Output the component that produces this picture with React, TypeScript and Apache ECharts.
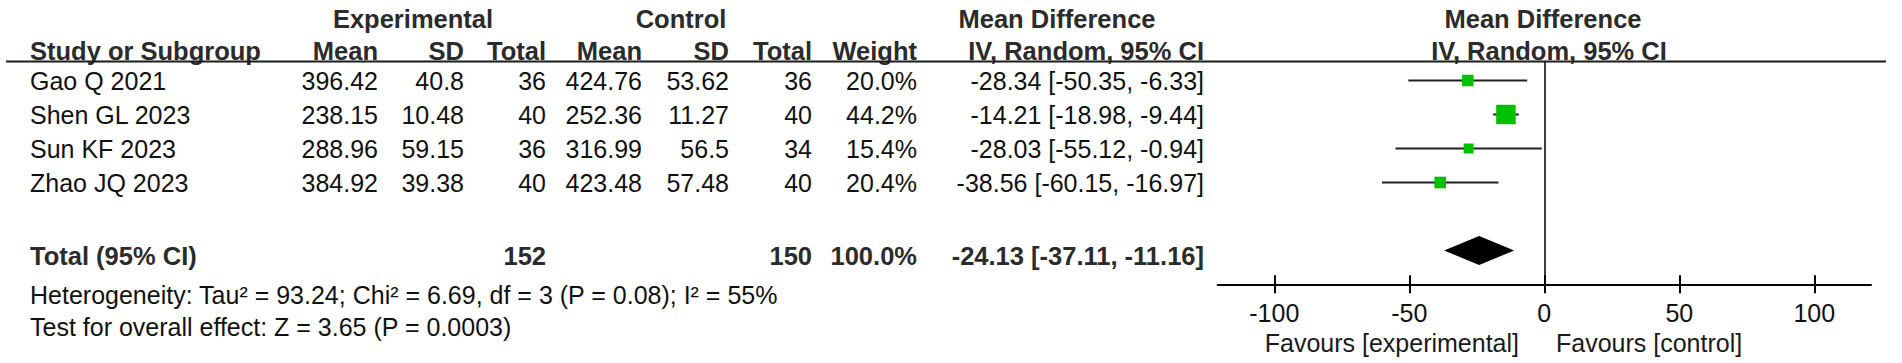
import React, { useEffect, useRef } from "react";
import * as echarts from "echarts";

// ---- data ----
const studies = ["Gao Q 2021", "Shen GL 2023", "Sun KF 2023", "Zhao JQ 2023"];
const expMean = [396.42, 238.15, 288.96, 384.92];
const expSD = [40.8, 10.48, 59.15, 39.38];
const expN = [36, 40, 36, 40];
const ctlMean = [424.76, 252.36, 316.99, 423.48];
const ctlSD = [53.62, 11.27, 56.5, 57.48];
const ctlN = [36, 40, 34, 40];
const weights = [20.0, 44.2, 15.4, 20.4];
const mdVals = [-28.34, -14.21, -28.03, -38.56];
const ciLow = [-50.35, -18.98, -55.12, -60.15];
const ciHigh = [-6.33, -9.44, -0.94, -16.97];
const totalN = [152, 150];
const totalWeight = [100.0];
const totalMD = [-24.13, -37.11, -11.16]; // estimate, low, high
const hetStats = [93.24, 6.69, 3, 0.08, 55]; // tau2, chi2, df, p, I2
const overallStats = [3.65, 0.0003]; // Z, P
const tickValues = [-100, -50, 0, 50, 100];

const FONT = "'Liberation Sans', Arial, Helvetica, sans-serif";
const FS = 25;
const FSB = 25.5;
const REG = `${FS}px ${FONT}`;
const BOLD = `bold ${FSB}px ${FONT}`;
const TXT = "#111";
const HDR = "#2b2b2b";

const rowY = (i: number) => 80.5 + 34 * i;
const TOTAL_ROW = 5;

function txt(text: string, x: number, y: number, align: string, bold = false, color?: string) {
  return {
    type: "text",
    x,
    y,
    silent: true,
    style: {
      text,
      font: bold ? BOLD : REG,
      fill: color || (bold ? HDR : TXT),
      textAlign: align,
      textVerticalAlign: "middle",
    },
  };
}

export default function App() {
  const ref = useRef<HTMLDivElement>(null);
  useEffect(() => {
    if (!ref.current) return;
    const chart = echarts.init(ref.current, undefined, { renderer: "svg" });

    // column right edges
    const cExpMean = 378, cExpSD = 464, cExpN = 546, cCtlMean = 642, cCtlSD = 729, cCtlN = 812, cW = 917, cMD = 1204;

    const g: any[] = [];
    // headers
    g.push(txt("Experimental", 413, 18.5, "center", true));
    g.push(txt("Control", 681, 18.5, "center", true));
    g.push(txt("Mean Difference", 1057, 18.5, "center", true));
    g.push(txt("Mean Difference", 1543, 18.5, "center", true));
    g.push(txt("Study or Subgroup", 30, 51, "left", true));
    g.push(txt("Mean", cExpMean, 51, "right", true));
    g.push(txt("SD", cExpSD, 51, "right", true));
    g.push(txt("Total", cExpN, 51, "right", true));
    g.push(txt("Mean", cCtlMean, 51, "right", true));
    g.push(txt("SD", cCtlSD, 51, "right", true));
    g.push(txt("Total", cCtlN, 51, "right", true));
    g.push(txt("Weight", cW, 51, "right", true));
    g.push(txt("IV, Random, 95% CI", cMD, 51, "right", true));
    g.push(txt("IV, Random, 95% CI", 1549, 51, "center", true));
    // header underline
    g.push({
      type: "line",
      silent: true,
      shape: { x1: 6, y1: 61.5, x2: 1886, y2: 61.5 },
      style: { stroke: "#1a1a1a", lineWidth: 2 },
    });
    // study rows
    studies.forEach((s, i) => {
      const y = rowY(i);
      g.push(txt(s, 30, y, "left"));
      g.push(txt(String(expMean[i]), cExpMean, y, "right"));
      g.push(txt(String(expSD[i]), cExpSD, y, "right"));
      g.push(txt(String(expN[i]), cExpN, y, "right"));
      g.push(txt(String(ctlMean[i]), cCtlMean, y, "right"));
      g.push(txt(String(ctlSD[i]), cCtlSD, y, "right"));
      g.push(txt(String(ctlN[i]), cCtlN, y, "right"));
      g.push(txt(weights[i].toFixed(1) + "%", cW, y, "right"));
      g.push(
        txt(`${mdVals[i].toFixed(2)} [${ciLow[i].toFixed(2)}, ${ciHigh[i].toFixed(2)}]`, cMD, y, "right")
      );
    });
    // total row
    const ty = rowY(TOTAL_ROW) + 5.5;
    g.push(txt("Total (95% CI)", 30, ty, "left", true));
    g.push(txt(String(totalN[0]), cExpN, ty, "right", true));
    g.push(txt(String(totalN[1]), cCtlN, ty, "right", true));
    g.push(txt(totalWeight[0].toFixed(1) + "%", cW, ty, "right", true));
    g.push(
      txt(
        `${totalMD[0].toFixed(2)} [${totalMD[1].toFixed(2)}, ${totalMD[2].toFixed(2)}]`,
        cMD,
        ty,
        "right",
        true
      )
    );
    g.push(
      txt(
        `Heterogeneity: Tau² = ${hetStats[0].toFixed(2)}; Chi² = ${hetStats[1].toFixed(2)}, df = ${hetStats[2]} (P = ${hetStats[3].toFixed(2)}); I² = ${hetStats[4]}%`,
        30,
        295,
        "left"
      )
    );
    g.push(
      txt(
        `Test for overall effect: Z = ${overallStats[0].toFixed(2)} (P = ${overallStats[1].toFixed(4)})`,
        30,
        327,
        "left"
      )
    );
    // favours labels
    g.push(txt("Favours [experimental]", 1519, 343, "right", false, "#1a1a1a"));
    g.push(txt("Favours [control]", 1556, 343, "left", false, "#1a1a1a"));

    const ciData = studies.map((_, i) => [mdVals[i], i, ciLow[i], ciHigh[i], weights[i]]);
    const diamondData = [[totalMD[0], TOTAL_ROW, totalMD[1], totalMD[2]]];

    const gridTop = 62;
    const gridBottomY = 284.3;
    const gridH = gridBottomY - gridTop;
    const yMin = -(rowY(0) - gridTop) / 34;
    const yMax = yMin + gridH / 34;
    const gridBox = { left: 1217.6, right: 1902 - 1871, top: gridTop, height: gridH, containLabel: false };

    const axisCommon = {
      type: "value",
      min: -121,
      max: 121,
      position: "bottom",
      splitLine: { show: false },
    };

    chart.setOption({
      animation: false,
      backgroundColor: "#ffffff",
      graphic: g,
      grid: [gridBox, { ...gridBox }],
      xAxis: [
        {
          ...axisCommon,
          gridIndex: 0,
          axisLine: { show: true, onZero: false, lineStyle: { color: "#000", width: 2 } },
          axisTick: { show: true, inside: false, length: 9, customValues: tickValues, lineStyle: { color: "#000", width: 2 } },
          axisLabel: {
            show: true,
            customValues: tickValues,
            margin: 16,
            fontSize: FS,
            fontFamily: FONT,
            color: TXT,
          },
        },
        {
          ...axisCommon,
          gridIndex: 1,
          axisLine: { show: false, onZero: false },
          axisTick: { show: true, inside: true, length: 9, customValues: tickValues, lineStyle: { color: "#000", width: 2 } },
          axisLabel: { show: false },
        },
      ],
      yAxis: [
        { type: "value", gridIndex: 0, min: yMin, max: yMax, inverse: true, show: false },
        { type: "value", gridIndex: 1, min: yMin, max: yMax, inverse: true, show: false },
      ],
      series: [
        {
          type: "custom",
          name: "studies",
          xAxisIndex: 0,
          yAxisIndex: 0,
          data: ciData,
          encode: { x: [0, 2, 3], y: 1 },
          renderItem: (params: any, api: any) => {
            const md = api.value(0);
            const row = api.value(1);
            const lo = api.value(2);
            const hi = api.value(3);
            const w = api.value(4);
            const pLo = api.coord([lo, row]);
            const pHi = api.coord([hi, row]);
            const pC = api.coord([md, row]);
            const s = 4.9 + 0.33 * w;
            return {
              type: "group",
              children: [
                {
                  type: "line",
                  shape: { x1: pLo[0], y1: pLo[1], x2: pHi[0], y2: pHi[1] },
                  style: { stroke: "#222", lineWidth: 2 },
                },
                {
                  type: "rect",
                  shape: { x: pC[0] - s / 2, y: pC[1] - s / 2, width: s, height: s },
                  style: { fill: "#00c000" },
                },
              ],
            };
          },
          markLine: {
            silent: true,
            symbol: "none",
            label: { show: false },
            lineStyle: { color: "#000", width: 1.5, type: "solid" },
            data: [{ xAxis: 0 }],
          },
          z: 3,
        },
        {
          type: "custom",
          name: "total",
          xAxisIndex: 0,
          yAxisIndex: 0,
          data: diamondData,
          encode: { x: [0, 2, 3], y: 1 },
          renderItem: (params: any, api: any) => {
            const row = api.value(1);
            const pC = api.coord([api.value(0), row]);
            const pLo = api.coord([api.value(2), row]);
            const pHi = api.coord([api.value(3), row]);
            const h = 14.5;
            return {
              type: "polygon",
              shape: {
                points: [
                  [pLo[0], pC[1]],
                  [pC[0], pC[1] - h],
                  [pHi[0], pC[1]],
                  [pC[0], pC[1] + h],
                ],
              },
              style: { fill: "#000" },
            };
          },
          z: 3,
        },
      ],
    });
    return () => chart.dispose();
  }, []);
  return (
    <div
      ref={ref}
      style={{ position: "absolute", left: 0, top: 0, width: 1902, height: 363, background: "#fff" }}
    />
  );
}
